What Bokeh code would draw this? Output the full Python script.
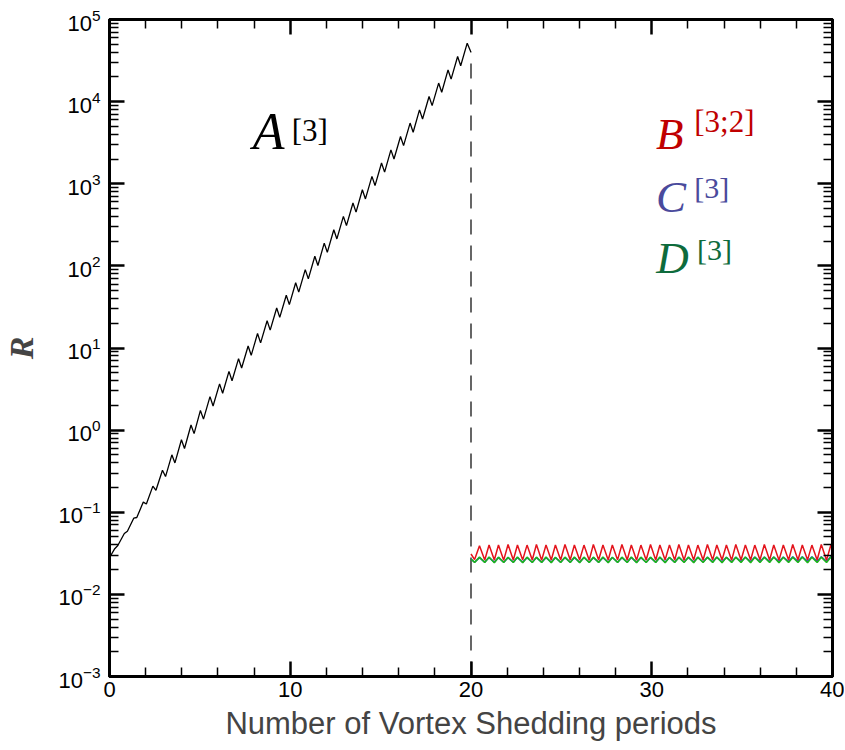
from bokeh.plotting import figure
from bokeh.models import Range1d, FixedTicker, LogAxis, LinearAxis, Label, CustomJSTickFormatter
from bokeh.embed import file_html
from bokeh.resources import INLINE

# ---------------- data ----------------
# A^[3] : black curve, 0 <= t <= 20 (vertex times of local maxima / minima)
black_start_t = 0.0
black_start = 0.028
black_peak_t = [0.29, 0.82, 1.34, 1.87, 2.40, 2.93, 3.45, 3.98, 4.51, 5.03,
                5.56, 6.09, 6.61, 7.14, 7.67, 8.19, 8.72, 9.25, 9.78, 10.30,
                10.83, 11.36, 11.88, 12.41, 12.94, 13.47, 13.99, 14.52, 15.05, 15.57,
                16.10, 16.63, 17.15, 17.68, 18.21, 18.73, 19.26, 19.79]
black_peak = [0.0360, 0.0551, 0.0847, 0.133, 0.208, 0.325, 0.500, 0.764, 1.156, 1.738,
              2.559, 3.656, 5.188, 7.413, 10.59, 15.03, 21.48, 30.69, 43.85, 62.23,
              89.95, 130.9, 189.2, 275.4, 400.9, 583.4, 845.3, 1230, 1791, 2588,
              3767, 5483, 7943, 11560, 16830, 24320, 35400, 51520]
black_trough_t = [0.46, 0.99, 1.51, 2.04, 2.57, 3.10, 3.62, 4.15, 4.68, 5.20,
                  5.73, 6.26, 6.78, 7.31, 7.84, 8.36, 8.89, 9.42, 9.95, 10.47,
                  11.00, 11.53, 12.05, 12.58, 13.11, 13.64, 14.16, 14.69, 15.22, 15.74,
                  16.27, 16.80, 17.32, 17.85, 18.38, 18.90, 19.43, 20.00]
black_trough = [0.0393, 0.0588, 0.0863, 0.126, 0.185, 0.272, 0.399, 0.598, 0.906, 1.361,
                1.968, 2.812, 3.990, 5.702, 8.147, 11.56, 16.52, 23.61, 33.73, 47.86,
                69.50, 101.2, 146.2, 212.8, 309.7, 450.8, 653.1, 950.6, 1384, 2000,
                2911, 4236, 6138, 8933, 13000, 18790, 27350, 39810]

# B^[3;2], C^[3], D^[3] : 20 <= t <= 40
second_start_t = [20.0, 20.2]
second_peak_t = [20.47, 21.00, 21.52, 22.05, 22.57, 23.10, 23.62, 24.15, 24.67, 25.20,
                 25.72, 26.25, 26.77, 27.30, 27.82, 28.35, 28.87, 29.40, 29.93, 30.45,
                 30.98, 31.50, 32.03, 32.55, 33.08, 33.60, 34.13, 34.65, 35.18, 35.70,
                 36.23, 36.75, 37.28, 37.80, 38.33, 38.86, 39.38, 39.91]
second_trough_t = [20.76, 21.29, 21.81, 22.34, 22.86, 23.39, 23.91, 24.44, 24.96, 25.49,
                   26.01, 26.54, 27.06, 27.59, 28.11, 28.64, 29.16, 29.69, 30.22, 30.74,
                   31.27, 31.79, 32.32, 32.84, 33.37, 33.89, 34.42, 34.94, 35.47, 35.99,
                   36.52, 37.04, 37.57, 38.09, 38.62, 39.15, 39.67, 40.00]

red_start = [0.031, 0.0265]
red_peak = [0.0390, 0.0400, 0.0400, 0.0405, 0.0400, 0.0398, 0.0405, 0.0400, 0.0400, 0.0405,
            0.0400, 0.0398, 0.0405, 0.0400, 0.0400, 0.0405, 0.0400, 0.0398, 0.0405, 0.0400,
            0.0400, 0.0405, 0.0400, 0.0398, 0.0405, 0.0400, 0.0400, 0.0405, 0.0400, 0.0398,
            0.0405, 0.0400, 0.0400, 0.0405, 0.0400, 0.0398, 0.0405, 0.0400]
red_trough = [0.0262, 0.0262, 0.0261, 0.0262, 0.0263, 0.0262, 0.0261, 0.0262, 0.0262, 0.0263,
              0.0262, 0.0261, 0.0262, 0.0262, 0.0263, 0.0262, 0.0261, 0.0262, 0.0262, 0.0263,
              0.0262, 0.0261, 0.0262, 0.0262, 0.0263, 0.0262, 0.0261, 0.0262, 0.0262, 0.0263,
              0.0262, 0.0261, 0.0262, 0.0262, 0.0263, 0.0262, 0.0261, 0.0360]

green_start = [0.0268, 0.0245]
green_peak = [0.0284, 0.0285, 0.0284, 0.0283, 0.0285, 0.0284, 0.0284, 0.0285, 0.0283, 0.0284,
              0.0285, 0.0284, 0.0284, 0.0285, 0.0283, 0.0284, 0.0285, 0.0284, 0.0284, 0.0285,
              0.0283, 0.0284, 0.0285, 0.0284, 0.0284, 0.0285, 0.0283, 0.0284, 0.0285, 0.0284,
              0.0284, 0.0285, 0.0283, 0.0284, 0.0285, 0.0284, 0.0284, 0.0285]
green_trough = [0.0244, 0.0243, 0.0244, 0.0244, 0.0243, 0.0244, 0.0244, 0.0243, 0.0244, 0.0244,
                0.0243, 0.0244, 0.0244, 0.0243, 0.0244, 0.0244, 0.0243, 0.0244, 0.0244, 0.0243,
                0.0244, 0.0244, 0.0243, 0.0244, 0.0244, 0.0243, 0.0244, 0.0244, 0.0243, 0.0244,
                0.0244, 0.0243, 0.0244, 0.0244, 0.0243, 0.0244, 0.0244, 0.0265]

blue_start = [0.0270, 0.0246]
blue_peak = [0.0280, 0.0281, 0.0280, 0.0280, 0.0281, 0.0280, 0.0281, 0.0280, 0.0280, 0.0281,
             0.0280, 0.0281, 0.0280, 0.0280, 0.0281, 0.0280, 0.0281, 0.0280, 0.0280, 0.0281,
             0.0281, 0.0282, 0.0281, 0.0282, 0.0282, 0.0283, 0.0282, 0.0283, 0.0283, 0.0284,
             0.0284, 0.0285, 0.0285, 0.0286, 0.0286, 0.0287, 0.0287, 0.0288]
blue_trough = [0.0247, 0.0247, 0.0246, 0.0247, 0.0247, 0.0246, 0.0247, 0.0247, 0.0246, 0.0247,
               0.0247, 0.0246, 0.0247, 0.0247, 0.0246, 0.0247, 0.0247, 0.0246, 0.0247, 0.0247,
               0.0247, 0.0248, 0.0248, 0.0248, 0.0249, 0.0249, 0.0249, 0.0250, 0.0250, 0.0250,
               0.0251, 0.0251, 0.0251, 0.0252, 0.0252, 0.0252, 0.0253, 0.0268]

switch_t = 20.0

x_major = [0, 10, 20, 30, 40]
x_minor = [2, 4, 6, 8, 12, 14, 16, 18, 22, 24, 26, 28, 32, 34, 36, 38]
y_major = [1e-3, 1e-2, 1e-1, 1e0, 1e1, 1e2, 1e3, 1e4, 1e5]
y_minor_mult = [2, 3, 4, 5, 6, 7, 8, 9]

x_label = "Number of Vortex Shedding periods"
y_label = "R"


def zig(a, b):
    out = []
    for u, v in zip(a, b):
        out += [u, v]
    return out


black_t = [black_start_t] + zig(black_peak_t, black_trough_t)
black_v = [black_start] + zig(black_peak, black_trough)
t2 = second_start_t + zig(second_peak_t, second_trough_t)
red_v = red_start + zig(red_peak, red_trough)
green_v = green_start + zig(green_peak, green_trough)
blue_v = blue_start + zig(blue_peak, blue_trough)

y_minor = [m * d for d in y_major[:-1] for m in y_minor_mult]

# ---------------- figure ----------------
p = figure(frame_width=723, frame_height=657,
           x_range=Range1d(0, 40), y_range=Range1d(1e-3, 1e5),
           y_axis_type="log", output_backend="svg", toolbar_location=None,
           min_border_left=101, min_border_right=12, min_border_top=19,
           min_border_bottom=71, background_fill_color="white",
           border_fill_color="white")
p.grid.visible = False
p.outline_line_color = "black"
p.outline_line_width = 3

xt = FixedTicker(ticks=x_major, minor_ticks=x_minor)
yt = FixedTicker(ticks=y_major, minor_ticks=y_minor)

TICK_FONT = "Liberation Sans"
blank = CustomJSTickFormatter(code="return ''")


def style(ax, show_labels=True):
    ax.axis_line_width = 3
    ax.axis_line_color = "black"
    ax.major_tick_in = 15
    ax.major_tick_out = 0
    ax.minor_tick_in = 9
    ax.minor_tick_out = 0
    ax.major_tick_line_width = 2.5
    ax.minor_tick_line_width = 1.5
    ax.major_tick_line_color = "black"
    ax.minor_tick_line_color = "black"
    ax.major_label_text_font = TICK_FONT
    ax.major_label_text_color = "black"
    ax.major_label_text_font_size = "22px"
    if not show_labels:
        ax.formatter = blank
        ax.major_label_standoff = 0


p.xaxis.ticker = xt
p.yaxis.ticker = yt
style(p.xaxis[0])
style(p.yaxis[0])
p.xaxis.major_label_standoff = 5
p.yaxis.major_label_standoff = 9

p.xaxis.axis_label = x_label
p.xaxis.axis_label_text_font = TICK_FONT
p.xaxis.axis_label_text_font_style = "normal"
p.xaxis.axis_label_text_font_size = "31px"
p.xaxis.axis_label_standoff = 6

p.yaxis.axis_label = y_label
p.yaxis.axis_label_text_font = "Liberation Serif"
p.yaxis.axis_label_text_font_style = "bold italic"
p.yaxis.axis_label_text_font_size = "34px"
p.yaxis.axis_label_standoff = 15

ax_r = LogAxis(ticker=yt)
style(ax_r, show_labels=False)
p.add_layout(ax_r, "right")
ax_t = LinearAxis(ticker=xt)
style(ax_t, show_labels=False)
p.add_layout(ax_t, "above")

# ---------------- curves ----------------
p.line([switch_t, switch_t], [y_major[0], black_v[-1]], line_color="black",
       line_width=1.2, line_dash="15 11")
p.line(black_t, black_v, line_color="black", line_width=1.3)
p.line(t2, blue_v, line_color="#2f4fd8", line_width=1.6)
p.line(t2, green_v, line_color="#1db41d", line_width=1.6)
p.line(t2, red_v, line_color="#e3141c", line_width=1.5)

# ---------------- annotations ----------------
SERIF = "Liberation Serif"


def tex(x, y, base, sup, sx, sy, color, size, sup_size):
    p.add_layout(Label(x=x, y=y, text=base, text_font=SERIF, text_font_style="italic",
                       text_font_size=size, text_color=color, text_baseline="alphabetic"))
    p.add_layout(Label(x=sx, y=sy, text=sup, text_font=SERIF, text_font_style="normal",
                       text_font_size=sup_size, text_color=color, text_baseline="alphabetic"))


tex(7.93, 4327, "A", "[3]", 10.08, 4487, "black", "52px", "31px")
tex(30.23, 4035, "B", "[3;2]", 32.35, 5649, "#c00000", "45px", "31px")
tex(30.23, 699, "C", "[3]", 32.35, 912.6, "#4a4a9c", "45px", "30px")
tex(30.25, 123.0, "D", "[3]", 32.51, 160.5, "#0e6b3c", "45px", "30px")

open("out.html", "w").write(file_html(p, INLINE))
